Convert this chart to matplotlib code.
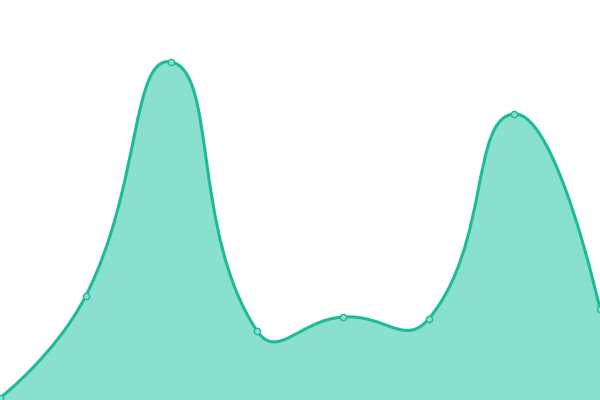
import matplotlib
matplotlib.use('Agg')
import matplotlib.pyplot as plt
from matplotlib.path import Path
from matplotlib.patches import PathPatch
import numpy as np

# 데이터
categories = ['A', 'B', 'C', 'D', 'E', 'F', 'G', 'H']
values = [2, 104, 338, 69, 83, 81, 286, 91]

LINE = '#1dbb98'
FILL = '#89e0cf'
SMOOTH = 0.5


def smooth_path(ax, xs, ys):
    """ECharts 스타일 베지어 곡선 (화면 좌표에서 계산)"""
    pts = ax.transData.transform(np.column_stack([xs, ys]))
    n = len(pts)
    cps = []
    for i in range(n):
        p = pts[i]
        if i == 0 or i == n - 1:
            cps.append((p, p))
            continue
        prev, nxt = pts[i - 1], pts[i + 1]
        v = nxt - prev
        d0 = np.hypot(*(p - prev))
        d1 = np.hypot(*(nxt - p))
        r = d1 / (d0 + d1)
        cps.append((p - v * SMOOTH * (1 - r), p + v * SMOOTH * r))
    verts = [pts[0]]
    codes = [Path.MOVETO]
    for i in range(1, n):
        verts += [cps[i - 1][1], cps[i][0], pts[i]]
        codes += [Path.CURVE4] * 3
    inv = ax.transData.inverted()
    return inv.transform(np.array(verts)), codes


fig = plt.figure(figsize=(6, 4), dpi=100)
ax = fig.add_axes([0, 0, 1, 1])
x = np.arange(len(categories))
ax.set_xlim(x[0], x[-1])
ax.set_ylim(0, 400)
ax.axis('off')

verts, codes = smooth_path(ax, x, values)

# 영역 채우기
area_verts = np.vstack([verts, [[x[-1], 0], [x[0], 0], verts[0]]])
area_codes = codes + [Path.LINETO, Path.LINETO, Path.CLOSEPOLY]
ax.add_patch(PathPatch(Path(area_verts, area_codes), facecolor=FILL, edgecolor='none'))

# 선
ax.add_patch(PathPatch(Path(verts, codes), facecolor='none', edgecolor=LINE,
                       linewidth=2.2, capstyle='round', joinstyle='round'))

# 점
ax.plot(x, values, linestyle='none', marker='o', markersize=4.5,
        markerfacecolor=FILL, markeredgecolor=LINE, markeredgewidth=1.0)

fig.savefig('out.png', dpi=100)
